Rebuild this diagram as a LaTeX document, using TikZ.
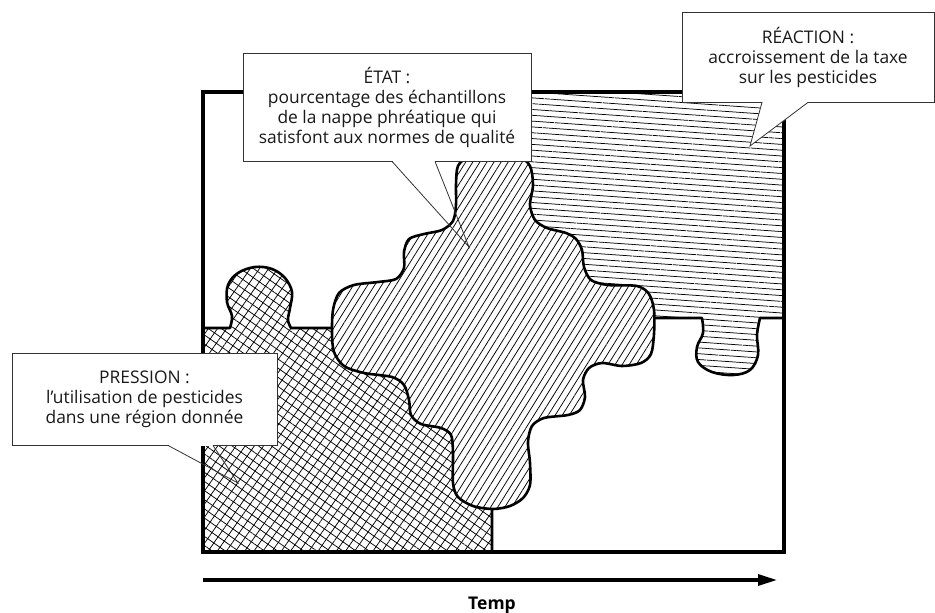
\documentclass[tikz,border=0pt]{standalone}
\usepackage{fontspec}
\setmainfont{Open Sans}
\usetikzlibrary{patterns.meta,arrows.meta}

\begin{document}
\begin{tikzpicture}[x=1pt,y=-1pt,
  frame/.style={line width=3.4pt},
  border/.style={line width=2.6pt, line join=round},
  bubble/.style={draw=black!80, line width=0.8pt, fill=white, inner sep=0pt,
    align=center, text=black!90, font=\fontsize{17.4}{20}\selectfont},
  tail/.style={draw=black!80, line width=0.8pt, line join=miter},
  gap/.style={draw=white, line width=1.8pt},
  crosshatch/.style={preaction={fill=white},
    preaction={pattern={Lines[angle=55,distance=7.5pt,line width=0.75pt]}},
    preaction={pattern={Lines[angle=-35,distance=7.5pt,line width=0.75pt]}}},
  slanthatch/.style={preaction={fill=white},
    preaction={pattern={Lines[angle=58,distance=6pt,line width=0.75pt]}}},
  flathatch/.style={preaction={fill=white},
    preaction={pattern={Lines[angle=-4,distance=5.8pt,line width=0.75pt]}}}]

\useasboundingbox (0,0) rectangle (935,613);

% pression piece
\draw[border, crosshatch] (203,552) -- (203,328) -- (230,328)
  -- plot[smooth, tension=0.6] coordinates {(230,328) (232,316) (227,302) (228,285) (238,273)
     (255,267) (272,269) (285,278) (292,292) (290,308) (288,320) (291,328)}
  -- (400,328) -- (492,480) -- (492,552) -- cycle;

% reaction piece
\draw[border, flathatch] (480,92) -- (784,92) -- (784,318) -- (760,318)
  -- plot[smooth, tension=0.6] coordinates {(760,318) (757,335) (758,355) (750,370) (733,375)
     (712,372) (698,362) (697,347) (703,333) (702,318)}
  -- (600,318) -- (480,200) -- cycle;

% etat piece
\draw[border, slanthatch] plot[smooth cycle, tension=0.5] coordinates {
  (470,156) (458,166) (456,185) (456,205) (453,221) (442,230) (424,234) (409,239)
  (404,252) (404,268) (396,279) (378,282) (354,285) (339,293) (333,310) (332,333)
  (334,352) (344,366) (364,373) (392,377) (404,385) (409,400) (411,415) (421,424)
  (441,428) (451,435) (453,452) (453,483) (458,497) (473,506) (493,509) (510,506)
  (523,498) (530,485) (530,463) (528,442) (532,426) (544,418) (568,415) (580,410)
  (585,397) (583,380) (589,368) (602,363) (622,366) (641,363) (651,354) (654,334)
  (654,310) (649,294) (637,286) (608,285) (591,280) (584,267) (582,250) (576,239)
  (566,233) (547,228) (535,220) (530,205) (533,185) (530,166) (518,156) (495,154)};

\draw[frame] (203,92) rectangle (784,552);

% callouts
\node[bubble, minimum width=288pt, minimum height=108pt] (etat) at (387,107)
  {ÉTAT :\\pourcentage des échantillons\\de la nappe phréatique qui\\satisfont aux normes de qualité};
\node[bubble, minimum width=252pt, minimum height=90pt] (reaction) at (808,57)
  {RÉACTION :\\accroissement de la taxe\\sur les pesticides};
\node[bubble, minimum width=265pt, minimum height=92pt] (pression) at (144.5,399)
  {PRESSION :\\l’utilisation de pesticides\\dans une région donnée};

\coordinate (etat tip) at (469,247);
\coordinate (reaction tip) at (750,146);
\coordinate (pression tip) at (238,483);

\draw[gap] ([xshift=5.5]etat.south) -- ([xshift=47.5]etat.south);
\draw[tail] ([xshift=5]etat.south) -- (etat tip) -- ([xshift=48]etat.south);

\fill[white] ([xshift=-46]reaction.south) -- (reaction tip) -- (reaction.south) -- cycle;
\draw[gap] ([xshift=-45.5]reaction.south) -- ([xshift=-0.5]reaction.south);
\draw[tail] ([xshift=-46]reaction.south) -- (reaction tip) -- (reaction.south);

\draw[gap] ([xshift=24]pression.south) -- ([xshift=68]pression.south);
\draw[tail] ([xshift=23.5]pression.south) -- (pression tip) -- ([xshift=68.5]pression.south);

% time axis
\coordinate (t0) at (203,580);
\coordinate (t1) at (777,580);
\draw[line width=3.2pt, -{Triangle[length=19pt,width=11pt]}] (t0) -- (t1);
\node[inner sep=0pt, font=\bfseries\fontsize{17.5}{20}\selectfont] (temp) at (492,605) {Temp};

\end{tikzpicture}
\end{document}
